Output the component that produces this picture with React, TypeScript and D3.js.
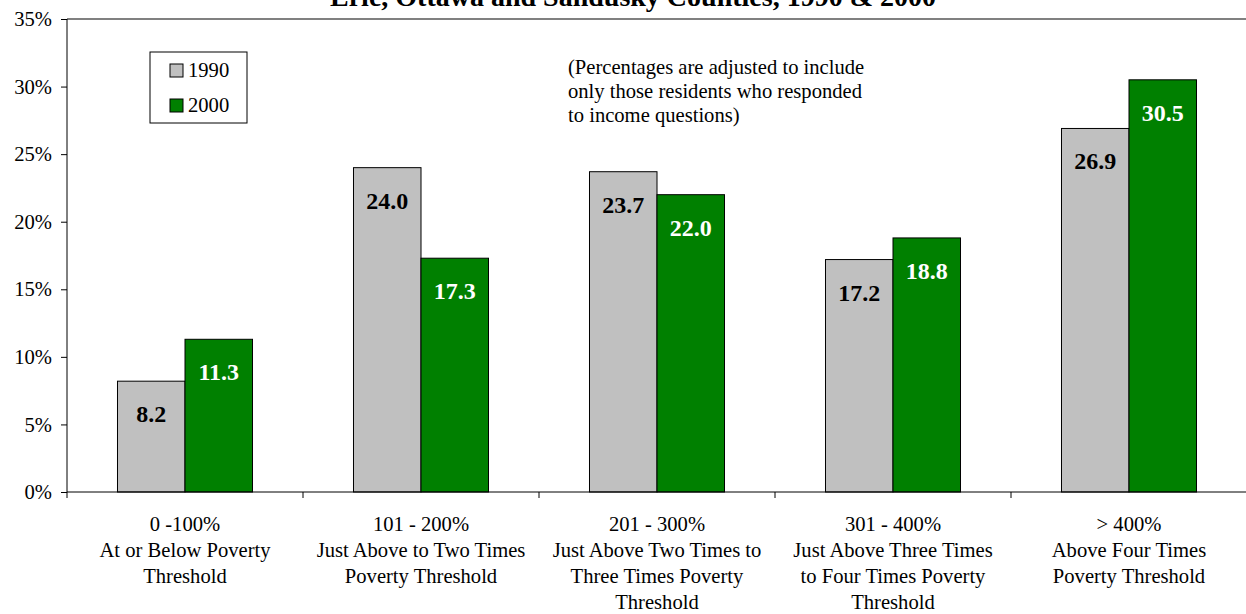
import { useEffect, useRef } from "react";
import * as d3 from "d3";

const categories = ["0-100", "101-200", "201-300", "301-400", ">400"];
const categoryLabels: string[][] = [
  ["0 -100%", "At or Below Poverty", "Threshold"],
  ["101 - 200%", "Just Above to Two Times", "Poverty Threshold"],
  ["201 - 300%", "Just Above Two Times to", "Three Times Poverty", "Threshold"],
  ["301 - 400%", "Just Above Three Times", "to Four Times Poverty", "Threshold"],
  ["> 400%", "Above Four Times", "Poverty Threshold"],
];
const seriesNames = ["1990", "2000"];
const values1990 = [8.2, 24.0, 23.7, 17.2, 26.9];
const values2000 = [11.3, 17.3, 22.0, 18.8, 30.5];
const yTicks = [0, 5, 10, 15, 20, 25, 30, 35];
const noteLines = [
  "(Percentages are adjusted to include",
  "only those residents who responded",
  "to income questions)",
];
const TITLE = "Erie, Ottawa and Sandusky Counties, 1990 & 2000";

const W = 1246;
const H = 614;
const GRAY = "#C0C0C0";
const GREEN = "#008000";
const FONT = "Liberation Serif, DejaVu Serif, serif";
const FS = 20.6;

export default function App() {
  const svgRef = useRef<SVGSVGElement>(null);

  useEffect(() => {
    const svgEl = svgRef.current;
    if (!svgEl) return;
    const svg = d3.select(svgEl);
    svg.selectAll("*").remove();

    const left = 67;
    const right = 1247;
    const top = 19;
    const bottom = 492;

    const x = d3.scaleBand<string>().domain(categories).range([left, right]).padding(0);
    const xs = d3
      .scaleBand<string>()
      .domain(seriesNames)
      .range([0, x.bandwidth()])
      .paddingInner(0)
      .paddingOuter(0.748);
    const y = d3.scaleLinear().domain([0, 35]).range([bottom, top]);

    // title (mostly cut off at the top, as in the source)
    svg
      .append("text")
      .attr("x", 633)
      .attr("y", 6)
      .attr("text-anchor", "middle")
      .style("font-family", FONT)
      .attr("font-weight", "bold")
      .attr("font-size", 28)
      .text(TITLE);

    // top border of plot area
    svg
      .append("line")
      .attr("x1", left)
      .attr("x2", W)
      .attr("y1", y(35))
      .attr("y2", y(35))
      .attr("stroke", "#808080")
      .attr("stroke-width", 2);

    // bars
    const rows = categories.map((c, i) => ({ c, vals: [values1990[i], values2000[i]] }));
    const groups = svg
      .selectAll("g.cat")
      .data(rows)
      .enter()
      .append("g")
      .attr("class", "cat")
      .attr("transform", (d) => `translate(${x(d.c)},0)`);

    groups
      .selectAll("rect")
      .data((d) => d.vals.map((v, j) => ({ v, s: seriesNames[j] })))
      .enter()
      .append("rect")
      .attr("x", (d) => xs(d.s)!)
      .attr("y", (d) => y(d.v))
      .attr("width", xs.bandwidth())
      .attr("height", (d) => bottom - y(d.v))
      .attr("fill", (d) => (d.s === "1990" ? GRAY : GREEN))
      .attr("stroke", "#000")
      .attr("stroke-width", 1);

    groups
      .selectAll("text.val")
      .data((d) => d.vals.map((v, j) => ({ v, s: seriesNames[j] })))
      .enter()
      .append("text")
      .attr("class", "val")
      .attr("x", (d) => xs(d.s)! + xs.bandwidth() / 2)
      .attr("y", (d) => y(d.v) + 41)
      .attr("text-anchor", "middle")
      .style("font-family", FONT)
      .attr("font-weight", "bold")
      .attr("font-size", 24)
      .attr("fill", (d) => (d.s === "1990" ? "#000" : "#fff"))
      .text((d) => d.v.toFixed(1));

    // y axis
    const yAxis = svg
      .append("g")
      .attr("transform", `translate(${left},0)`)
      .call(
        d3
          .axisLeft(y)
          .tickValues(yTicks)
          .tickSize(6)
          .tickPadding(9)
          .tickFormat((d) => `${d}%`),
      );
    yAxis.select(".domain").attr("stroke", "#000").attr("d", `M0,${top}V${bottom + 6}`);
    yAxis.selectAll(".tick line").attr("stroke", "#000");
    yAxis
      .selectAll("text")
      .attr("fill", "#000")
      .style("font-family", FONT)
      .attr("font-size", FS);

    // x axis baseline and category ticks
    svg
      .append("line")
      .attr("x1", left)
      .attr("x2", W)
      .attr("y1", bottom)
      .attr("y2", bottom)
      .attr("stroke", "#000");
    svg
      .selectAll("line.ctick")
      .data(categories)
      .enter()
      .append("line")
      .attr("class", "ctick")
      .attr("x1", (d) => x(d)! + x.bandwidth())
      .attr("x2", (d) => x(d)! + x.bandwidth())
      .attr("y1", bottom)
      .attr("y2", bottom + 6)
      .attr("stroke", "#000");

    // category labels
    const catText = svg
      .selectAll("text.catlabel")
      .data(categories)
      .enter()
      .append("text")
      .attr("class", "catlabel")
      .attr("text-anchor", "middle")
      .style("font-family", FONT)
      .attr("font-size", FS)
      .attr("fill", "#000");
    catText.each(function (d, i) {
      const t = d3.select(this);
      categoryLabels[i].forEach((line, k) => {
        t.append("tspan")
          .attr("x", x(d)! + x.bandwidth() / 2)
          .attr("y", 531 + k * 26)
          .text(line);
      });
    });

    // legend
    const lg = svg.append("g");
    lg.append("rect")
      .attr("x", 150)
      .attr("y", 52)
      .attr("width", 97)
      .attr("height", 71)
      .attr("fill", "#fff")
      .attr("stroke", "#000");
    seriesNames.forEach((s, i) => {
      lg.append("rect")
        .attr("x", 170)
        .attr("y", 64 + i * 35)
        .attr("width", 13)
        .attr("height", 13)
        .attr("fill", i === 0 ? GRAY : GREEN)
        .attr("stroke", "#000");
      lg.append("text")
        .attr("x", 188)
        .attr("y", 77 + i * 35)
        .style("font-family", FONT)
        .attr("font-size", FS)
        .text(s);
    });

    // note
    const note = svg
      .append("text")
      .style("font-family", FONT)
      .attr("font-size", FS)
      .attr("fill", "#000");
    noteLines.forEach((line, k) => {
      note.append("tspan").attr("x", 568).attr("y", 74 + k * 24).text(line);
    });
  }, []);

  return (
    <svg
      ref={svgRef}
      width={W}
      height={H}
      style={{ position: "absolute", left: 0, top: 0, display: "block", background: "#fff" }}
    />
  );
}
